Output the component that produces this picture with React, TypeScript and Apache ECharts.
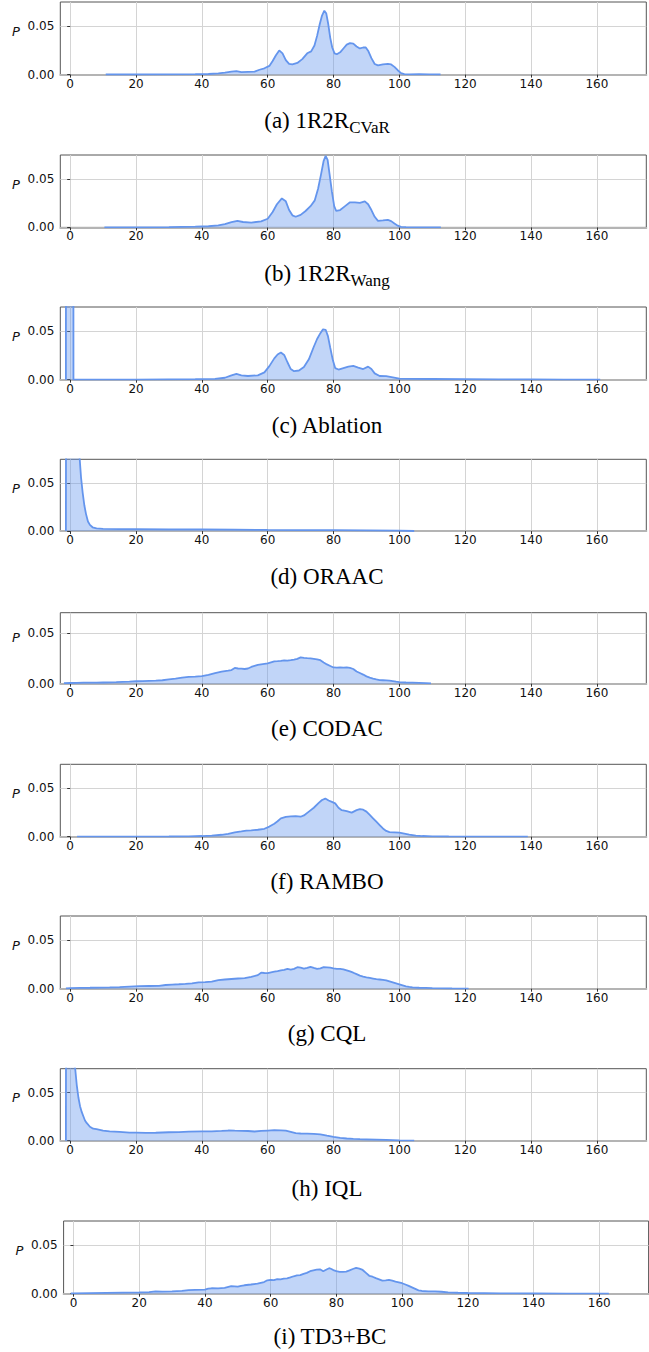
import React, { useEffect, useRef } from "react";
import * as echarts from "echarts";

// ---------- data ----------
const xTicks = [0, 20, 40, 60, 80, 100, 120, 140, 160];
const yTicks = [0, 0.05];

const captionMain = ["(a) 1R2R", "(b) 1R2R", "(c) Ablation", "(d) ORAAC", "(e) CODAC", "(f) RAMBO", "(g) CQL", "(h) IQL", "(i) TD3+BC"];
const captionSub = ["CVaR", "Wang", "", "", "", "", "", "", ""];
const yMaxes = [0.075, 0.075, 0.075, 0.075, 0.07, 0.075, 0.075, 0.075, 0.075];

const cvarCurve = [
  [10.8, 0.0001], [20, 0.0001], [30, 0.0002], [38, 0.0004], [42, 0.0006], [45, 0.0012], [47, 0.002], [49, 0.003],
  [50.5, 0.0035], [52, 0.0026], [54, 0.0028], [56, 0.003], [57.5, 0.005], [59, 0.0065], [60.5, 0.009], [61.5, 0.014],
  [62.5, 0.02], [63.5, 0.025], [64.5, 0.022], [65.5, 0.015], [66.5, 0.011], [67.5, 0.0105], [69, 0.012], [70.5, 0.016],
  [72, 0.022], [73.2, 0.024], [74.2, 0.03], [75, 0.04], [75.8, 0.052], [76.5, 0.061], [77.2, 0.066], [77.8, 0.063],
  [78.4, 0.052], [79, 0.038], [79.6, 0.028], [80.3, 0.022], [81, 0.021], [82, 0.023], [83, 0.027], [84, 0.031],
  [85, 0.0325], [86, 0.032], [87, 0.029], [88, 0.027], [89, 0.028], [89.8, 0.028], [90.6, 0.024], [91.5, 0.017],
  [92.5, 0.011], [93.5, 0.0095], [95, 0.0105], [96.5, 0.011], [97.5, 0.0105], [98.5, 0.008], [99.5, 0.0045],
  [100.5, 0.0015], [101.5, 0.0004], [103, 0.0002], [106, 0.0005], [109, 0.0003], [112.5, 0.0001],
];

const wangCurve = [
  [10.4, 0.0001], [20, 0.0001], [30, 0.0003], [38, 0.0007], [42, 0.0012], [45, 0.002], [47, 0.0035], [49, 0.0055],
  [50.8, 0.0068], [52.5, 0.0056], [55, 0.005], [58, 0.0062], [60, 0.009], [61.5, 0.016], [62.8, 0.024], [64.3, 0.03],
  [65.5, 0.027], [66.5, 0.018], [67.5, 0.0125], [68.5, 0.011], [70, 0.013], [71.5, 0.017], [73, 0.022], [74.3, 0.028],
  [75.3, 0.04], [76.2, 0.055], [77, 0.069], [77.6, 0.074], [78.2, 0.07], [78.8, 0.055], [79.5, 0.037], [80.2, 0.022],
  [80.8, 0.017], [82, 0.018], [83.5, 0.022], [85, 0.026], [86.5, 0.026], [88, 0.0255], [89.5, 0.027], [90.5, 0.024],
  [91.5, 0.018], [92.5, 0.011], [93.5, 0.0068], [95, 0.0072], [96.5, 0.0078], [97.5, 0.0065], [98.5, 0.004],
  [99.5, 0.0018], [100.5, 0.0006], [102, 0.0002], [106, 0.0001], [112.6, 0.0001],
];

const ablationCurve = [
  [-1.3, 0], [-1.2, 0.6], [0.9, 0.6], [1.0, 0], [5, 0], [20, 0.0001], [30, 0.0003], [38, 0.0005], [44, 0.0008],
  [47, 0.002], [49, 0.0045], [50.5, 0.0059], [52, 0.0045], [54, 0.0038], [57, 0.0045], [59, 0.0075], [60.5, 0.014],
  [62, 0.022], [63, 0.026], [64, 0.028], [65, 0.0255], [66, 0.018], [67, 0.011], [68, 0.0088], [69.5, 0.0095],
  [71, 0.013], [72.5, 0.021], [74, 0.034], [75, 0.042], [76, 0.048], [76.8, 0.052], [77.6, 0.0515], [78.3, 0.045],
  [79, 0.033], [79.8, 0.02], [80.5, 0.012], [81.5, 0.0105], [83, 0.012], [84.5, 0.0135], [86, 0.0142], [87.5, 0.0125],
  [89, 0.011], [90.5, 0.0135], [91.5, 0.011], [92.5, 0.0065], [94, 0.0038], [96, 0.0036], [98, 0.0025], [100, 0.0012],
  [104, 0.0008], [110, 0.0007], [120, 0.0005], [130, 0.0004], [140, 0.0003], [150, 0.0001], [161, 0.0001],
];

const oraacCurve = [
  [-1.3, 0], [-1.2, 0.3], [0, 0.35], [1.5, 0.2], [2.5, 0.1], [2.9, 0.075], [3.3, 0.056], [3.8, 0.04], [4.3, 0.027],
  [4.8, 0.018], [5.4, 0.01], [6.0, 0.0065], [6.8, 0.004], [8, 0.0028], [10, 0.0024], [15, 0.0021], [20, 0.002],
  [30, 0.0018], [40, 0.0017], [50, 0.0015], [60, 0.0012], [70, 0.0011], [80, 0.001], [90, 0.0008], [100, 0.0006],
  [104.5, 0.0001],
];

const codacCurve = [
  [-1.9, 0.0005], [0, 0.0007], [2, 0.0009], [4, 0.001], [6, 0.0011], [8, 0.0011], [10, 0.0012], [12, 0.0013],
  [14, 0.0015], [16, 0.0018], [18, 0.002], [20, 0.0024], [22, 0.0025], [24, 0.0028], [26, 0.003], [28, 0.0034],
  [30, 0.0042], [32, 0.005], [34, 0.006], [36, 0.0068], [38, 0.007], [40, 0.0075], [42, 0.0088], [44, 0.0105],
  [46, 0.0118], [48, 0.0128], [49, 0.0135], [50, 0.0155], [51, 0.015], [52, 0.0148], [53, 0.0145], [54, 0.015],
  [55, 0.0165], [56, 0.0175], [57, 0.0185], [58, 0.019], [59, 0.0195], [60, 0.02], [61, 0.021], [62, 0.022],
  [63, 0.0222], [64, 0.0225], [65, 0.023], [66, 0.0228], [67, 0.0232], [68, 0.0238], [69, 0.0245], [70, 0.026],
  [71, 0.0255], [72, 0.0252], [73, 0.025], [74, 0.0245], [75, 0.024], [76, 0.0232], [77, 0.021], [78, 0.019],
  [79, 0.0175], [80, 0.016], [81, 0.0158], [82, 0.016], [83, 0.0158], [84, 0.016], [85, 0.0155], [86, 0.0145],
  [87, 0.012], [88, 0.0105], [89, 0.009], [90, 0.0072], [91, 0.006], [92, 0.005], [93, 0.0042], [94, 0.0036],
  [95, 0.0034], [96, 0.0032], [97, 0.003], [98, 0.0026], [99, 0.002], [100, 0.0015], [102, 0.0012], [104, 0.001],
  [106, 0.0008], [108, 0.0006], [109.6, 0.0003],
];

const ramboCurve = [
  [2.1, 0.0001], [10, 0.0001], [20, 0.0001], [30, 0.0002], [36, 0.0004], [40, 0.0007], [43, 0.0011], [46, 0.002],
  [48, 0.003], [50, 0.0045], [52, 0.0055], [53.5, 0.0063], [55, 0.0065], [57, 0.0072], [59, 0.0082], [60.5, 0.0105],
  [62, 0.0135], [63, 0.016], [64, 0.019], [65.5, 0.0205], [67, 0.021], [68.5, 0.0213], [70, 0.0207], [71, 0.022],
  [72.5, 0.026], [74, 0.03], [75.5, 0.035], [76.5, 0.038], [77.5, 0.0395], [78.5, 0.0375], [79.5, 0.036],
  [80.5, 0.0345], [81.5, 0.03], [82.5, 0.0275], [84, 0.0265], [85.5, 0.025], [87, 0.0275], [88, 0.0285], [89, 0.028],
  [90, 0.026], [91, 0.0225], [92, 0.019], [93, 0.0155], [94, 0.012], [95, 0.0085], [96, 0.006], [97, 0.0048],
  [98.5, 0.0045], [100, 0.0042], [101.5, 0.0033], [103, 0.0022], [105, 0.0012], [107, 0.0007], [110, 0.0004],
  [115, 0.0002], [120, 0.0001], [130, 0.0001], [139, 0.0001],
];

const cqlCurve = [
  [-1.3, 0.0003], [0, 0.0006], [3, 0.0009], [6, 0.001], [9, 0.0012], [12, 0.0014], [15, 0.0017], [18, 0.0022],
  [21, 0.0026], [24, 0.0028], [27, 0.003], [29, 0.0038], [31, 0.0043], [33, 0.0046], [35, 0.005], [37, 0.0055],
  [39, 0.0065], [41, 0.0068], [43, 0.0072], [45, 0.0088], [47, 0.0095], [49, 0.01], [51, 0.0105], [53, 0.011],
  [55, 0.0122], [57, 0.014], [58, 0.0165], [59, 0.0162], [60, 0.016], [61, 0.0168], [62, 0.0175], [63, 0.0182],
  [64, 0.019], [65, 0.0195], [66, 0.0205], [67, 0.0198], [68, 0.0205], [69, 0.0222], [70, 0.0218], [71, 0.0208],
  [72, 0.0215], [73, 0.0226], [74, 0.0215], [75, 0.0205], [76, 0.021], [77, 0.0222], [78, 0.022], [79, 0.0218],
  [80, 0.021], [81, 0.0205], [82, 0.0205], [83, 0.02], [84, 0.019], [85, 0.0178], [86, 0.0165], [87, 0.015],
  [88, 0.0135], [89, 0.0125], [90, 0.0118], [91, 0.0112], [92, 0.0105], [93, 0.0098], [94, 0.0095], [95, 0.009],
  [96, 0.0085], [97, 0.0075], [98, 0.0065], [99, 0.0055], [100, 0.0045], [101, 0.0035], [102, 0.0025], [103, 0.0018],
  [104, 0.0014], [106, 0.001], [108, 0.0008], [110, 0.0006], [113, 0.0004], [116, 0.0002], [121, 0.0001],
];

const iqlCurve = [
  [-1.3, 0], [-1.2, 0.3], [0, 0.2], [1.0, 0.1], [1.5, 0.076], [2, 0.058], [2.5, 0.045], [3, 0.036], [3.5, 0.03],
  [4, 0.0255], [4.5, 0.021], [5, 0.0185], [6, 0.0145], [7, 0.0125], [8, 0.012], [10, 0.0105], [12, 0.0098],
  [15, 0.0092], [18, 0.0085], [20, 0.0084], [23, 0.0082], [26, 0.0083], [30, 0.0088], [33, 0.0089], [36, 0.0095],
  [40, 0.0098], [43, 0.0097], [46, 0.0102], [48, 0.0106], [50, 0.0104], [52, 0.0103], [54, 0.0101], [56, 0.0096],
  [58, 0.0102], [60, 0.0106], [62, 0.011], [64, 0.0108], [65.5, 0.0104], [67, 0.0092], [68.5, 0.0078], [70, 0.0075],
  [72, 0.0073], [74, 0.0071], [76, 0.0066], [78, 0.0052], [80, 0.004], [82, 0.003], [84, 0.0023], [86, 0.0019],
  [88, 0.0016], [90, 0.0014], [93, 0.0011], [96, 0.0008], [100, 0.0004], [104.5, 0.0001],
];

const td3bcCurve = [
  [-0.8, 0.0002], [0, 0.0003], [5, 0.0006], [10, 0.0009], [15, 0.0012], [20, 0.0013], [23, 0.0017], [25, 0.0024],
  [27, 0.0022], [30, 0.0024], [33, 0.003], [35, 0.0036], [37, 0.004], [40, 0.0042], [41, 0.0052], [42, 0.0056],
  [44, 0.0055], [46, 0.006], [48, 0.0078], [49, 0.0076], [50, 0.0072], [51, 0.008], [52, 0.0087], [54, 0.0095],
  [56, 0.0104], [58, 0.012], [59, 0.0138], [60, 0.0142], [61, 0.014], [62, 0.015], [63, 0.0147], [64, 0.0155],
  [65, 0.0158], [66, 0.0168], [67, 0.018], [68, 0.0188], [69, 0.0192], [70, 0.0205], [71, 0.0215], [72, 0.0232],
  [73, 0.024], [74, 0.0248], [75, 0.0252], [76, 0.0232], [77, 0.025], [77.8, 0.0263], [78.5, 0.0255], [79.3, 0.024],
  [80, 0.0232], [81, 0.0225], [82, 0.0226], [83, 0.0228], [84, 0.024], [85, 0.0255], [86, 0.0266], [87, 0.0258],
  [88, 0.0245], [89, 0.0215], [90, 0.0185], [91, 0.0175], [92, 0.016], [93, 0.0148], [94, 0.0135], [95, 0.0138],
  [96, 0.0143], [97, 0.0135], [98, 0.0125], [99, 0.0117], [100, 0.0108], [101, 0.0095], [102, 0.008], [103, 0.0065],
  [104, 0.005], [105, 0.0035], [106, 0.0028], [108, 0.0025], [110, 0.0024], [112, 0.002], [114, 0.0014],
  [117, 0.001], [120, 0.0007], [130, 0.0004], [140, 0.0002], [150, 0.0001], [162.9, 0.0001],
];

const curves = [cvarCurve, wangCurve, ablationCurve, oraacCurve, codacCurve, ramboCurve, cqlCurve, iqlCurve, td3bcCurve];

// ---------- layout ----------
const W = 649;
const H = 1352;
const panelTop = [2, 155, 307, 459.3, 612.7, 764.3, 916, 1068.7, 1221];
const panelHeight = [72.6, 72.4, 72.7, 71.8, 71, 72.4, 72.7, 72, 72.7];
const panelLeft = [60.3, 60.3, 60.3, 60.3, 60.3, 60.3, 60.3, 60.3, 63.6];
const panelWidth = [586, 586, 586, 586, 586, 586, 586, 586, 585];
const captionY = [121.5, 275, 427, 578, 730, 883, 1035, 1190, 1338];
const captionX = [327, 327, 327, 327, 327, 327, 327, 327, 330];

const LINE = "#6495ED";
const SPINE = "#555555";
const GRIDC = "#d4d4d4";
const TICKFONT = "DejaVu Sans";

export default function App() {
  const ref = useRef<HTMLDivElement>(null);

  useEffect(() => {
    if (!ref.current) return;
    const chart = echarts.init(ref.current, undefined, { renderer: "svg", width: W, height: H });

    const grid: any[] = [];
    const xAxis: any[] = [];
    const yAxis: any[] = [];
    const series: any[] = [];
    const graphic: any[] = [];

    curves.forEach((curve, i) => {
      grid.push({
        left: panelLeft[i],
        top: panelTop[i],
        width: panelWidth[i],
        height: panelHeight[i],
        show: true,
        borderColor: SPINE,
        borderWidth: 1,
        backgroundColor: "transparent",
        containLabel: false,
      });
      xAxis.push({
        type: "value",
        gridIndex: i,
        min: -3,
        max: 175,
        axisLine: { show: true, onZero: false, lineStyle: { color: "#b4b4b4", width: 2 } },
        axisTick: { show: true, customValues: xTicks, length: 3, lineStyle: { color: "#333", width: 1 } },
        axisLabel: {
          customValues: xTicks,
          margin: 3,
          fontFamily: TICKFONT,
          fontSize: 12,
          color: "#111",
          formatter: (v: number) => String(v),
        },
        splitLine: { show: true, lineStyle: { color: GRIDC, width: 1 } },
      });
      yAxis.push({
        type: "value",
        gridIndex: i,
        min: 0,
        max: yMaxes[i],
        axisLine: { show: false },
        axisTick: { show: true, customValues: yTicks, length: 3, lineStyle: { color: "#333", width: 1 } },
        axisLabel: {
          customValues: yTicks,
          margin: 6,
          fontFamily: TICKFONT,
          fontSize: 12,
          color: "#111",
          formatter: (v: number) => v.toFixed(2),
        },
        splitLine: { show: true, lineStyle: { color: GRIDC, width: 1 } },
      });
      series.push({
        type: "line",
        xAxisIndex: i,
        yAxisIndex: i,
        data: curve,
        showSymbol: false,
        symbol: "none",
        smooth: false,
        clip: true,
        lineStyle: { color: LINE, width: 1.8 },
        areaStyle: { color: LINE, opacity: 0.4 },
        z: 3,
      });

      const y05 = panelTop[i] + panelHeight[i] * (1 - 0.05 / yMaxes[i]);
      graphic.push({
        type: "text",
        x: panelLeft[i] - 44.3,
        y: y05 + 5,
        style: {
          text: "P",
          fontFamily: TICKFONT,
          fontStyle: "italic",
          fontSize: 13,
          fill: "#111",
          align: "center",
          verticalAlign: "middle",
        },
      });

      const sub = captionSub[i];
      graphic.push({
        type: "text",
        x: captionX[i],
        y: captionY[i],
        style: {
          text: sub ? `{m|${captionMain[i]}}{s|${sub}}` : `{m|${captionMain[i]}}`,
          align: "center",
          verticalAlign: "middle",
          rich: {
            m: {
              fontFamily: "Liberation Serif",
              fontSize: 23,
              lineHeight: 26,
              verticalAlign: "top",
              fill: "#000",
            },
            s: {
              fontFamily: "Liberation Serif",
              fontSize: 17,
              lineHeight: 17,
              verticalAlign: "top",
              padding: [10, 0, 0, 0],
              fill: "#000",
            },
          },
        },
      });
    });

    chart.setOption({
      animation: false,
      backgroundColor: "#ffffff",
      grid,
      xAxis,
      yAxis,
      series,
      graphic,
    });

    return () => {
      chart.dispose();
    };
  }, []);

  return (
    <div
      ref={ref}
      style={{ position: "absolute", left: 0, top: 0, width: W, height: H, background: "#fff" }}
    />
  );
}
